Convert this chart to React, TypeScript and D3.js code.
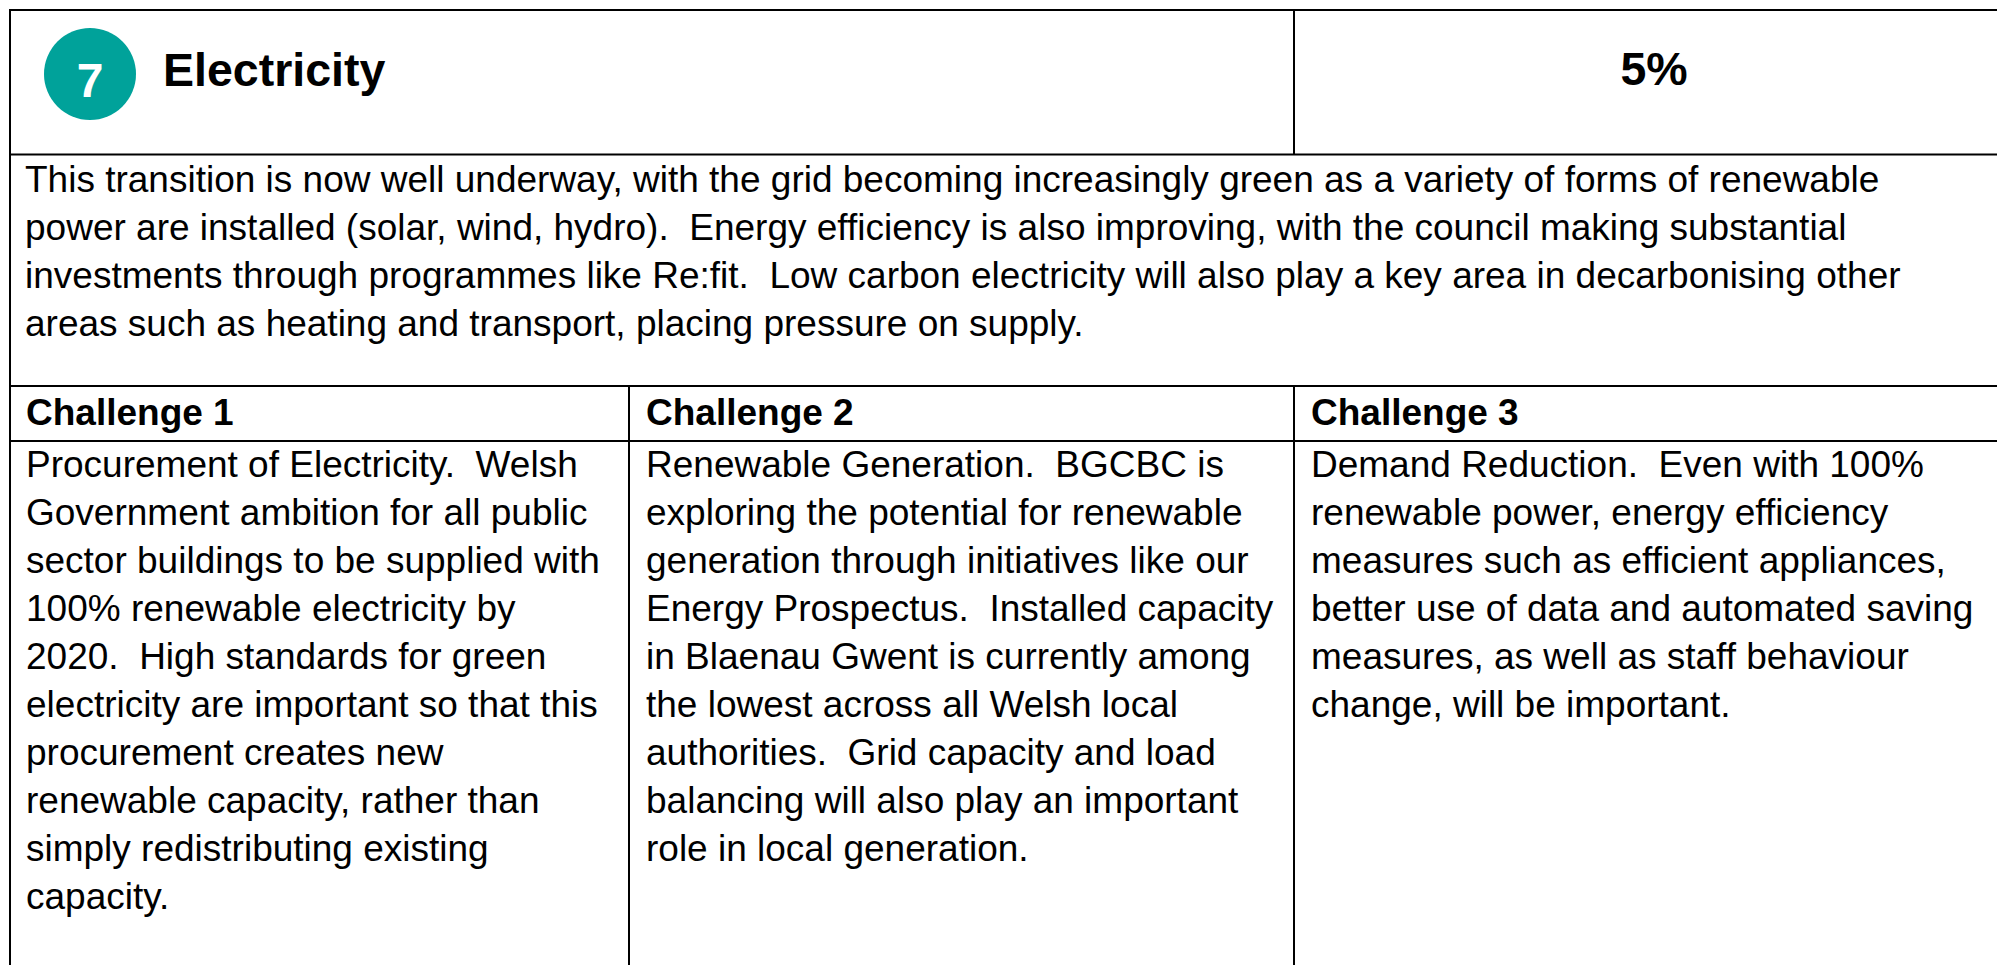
import React from "react";
import * as d3 from "d3";

const badgeNumber = "7";
const titleText = "Electricity";
const shareText = "5%";

const introLines = [
  "This transition is now well underway, with the grid becoming increasingly green as a variety of forms of renewable",
  "power are installed (solar, wind, hydro).  Energy efficiency is also improving, with the council making substantial",
  "investments through programmes like Re:fit.  Low carbon electricity will also play a key area in decarbonising other",
  "areas such as heating and transport, placing pressure on supply.",
];

const challengeHeaders = ["Challenge 1", "Challenge 2", "Challenge 3"];

const challenge1Lines = [
  "Procurement of Electricity.  Welsh",
  "Government ambition for all public",
  "sector buildings to be supplied with",
  "100% renewable electricity by",
  "2020.  High standards for green",
  "electricity are important so that this",
  "procurement creates new",
  "renewable capacity, rather than",
  "simply redistributing existing",
  "capacity.",
];
const challenge2Lines = [
  "Renewable Generation.  BGCBC is",
  "exploring the potential for renewable",
  "generation through initiatives like our",
  "Energy Prospectus.  Installed capacity",
  "in Blaenau Gwent is currently among",
  "the lowest across all Welsh local",
  "authorities.  Grid capacity and load",
  "balancing will also play an important",
  "role in local generation.",
];
const challenge3Lines = [
  "Demand Reduction.  Even with 100%",
  "renewable power, energy efficiency",
  "measures such as efficient appliances,",
  "better use of data and automated saving",
  "measures, as well as staff behaviour",
  "change, will be important.",
];
const challengeLines = [challenge1Lines, challenge2Lines, challenge3Lines];

const W = 1997;
const H = 965;
const FONT = "'Liberation Sans', Arial, Helvetica, sans-serif";
const TEAL = "#00A29A";

export default function App() {
  // table geometry
  const left = 10;
  const right = 2014;
  const top = 10;
  const rowLines = [154.5, 386, 441];
  const colX = [left, 629, 1294];
  const headerDivider = 1294;
  const textPad = 16;
  const lineH = 48;

  const introY = d3.scaleLinear().domain([0, 1]).range([192, 192 + lineH]);
  const bodyY = d3.scaleLinear().domain([0, 1]).range([477, 477 + lineH]);

  const txt: React.CSSProperties = { whiteSpace: "pre" };

  return (
    <svg
      width={W}
      height={H}
      style={{ position: "absolute", left: 0, top: 0, background: "#fff" }}
      fontFamily={FONT}
    >
      <rect x={0} y={0} width={W} height={H} fill="#fff" />
      {/* borders */}
      <g stroke="#000" strokeWidth={2} fill="none">
        <line x1={left} y1={top} x2={right} y2={top} />
        <line x1={left} y1={top - 1} x2={left} y2={H} />
        <line x1={right} y1={top} x2={right} y2={H} />
        {rowLines.map((y, i) => (
          <line key={i} x1={left} y1={y} x2={right} y2={y} />
        ))}
        <line x1={headerDivider} y1={top} x2={headerDivider} y2={rowLines[0]} />
        {colX.slice(1).map((x, i) => (
          <line key={"c" + i} x1={x} y1={rowLines[1]} x2={x} y2={H} />
        ))}
      </g>

      {/* header */}
      <circle cx={90} cy={74} r={46} fill={TEAL} />
      <text x={90} y={96.5} textAnchor="middle" fill="#fff" fontWeight="bold" fontSize={48}>
        {badgeNumber}
      </text>
      <text x={163} y={86} fill="#000" fontWeight="bold" fontSize={46.5}>
        {titleText}
      </text>
      <text x={1654} y={85} textAnchor="middle" fill="#000" fontWeight="bold" fontSize={46.5}>
        {shareText}
      </text>

      {/* intro */}
      {introLines.map((l, i) => (
        <text key={"i" + i} x={left + 15} y={introY(i)} fontSize={37} fill="#000" style={txt}>
          {l}
        </text>
      ))}

      {/* challenge headers */}
      {challengeHeaders.map((h, i) => (
        <text key={"h" + i} x={colX[i] + textPad + (i === 0 ? 0 : 1)} y={425} fontSize={37} fontWeight="bold" fill="#000">
          {h}
        </text>
      ))}

      {/* challenge bodies */}
      {challengeLines.map((lines, ci) =>
        lines.map((l, li) => (
          <text
            key={ci + "-" + li}
            x={colX[ci] + textPad + (ci === 0 ? 0 : 1)}
            y={bodyY(li)}
            fontSize={37}
            fill="#000"
            style={txt}
          >
            {l}
          </text>
        ))
      )}
    </svg>
  );
}
